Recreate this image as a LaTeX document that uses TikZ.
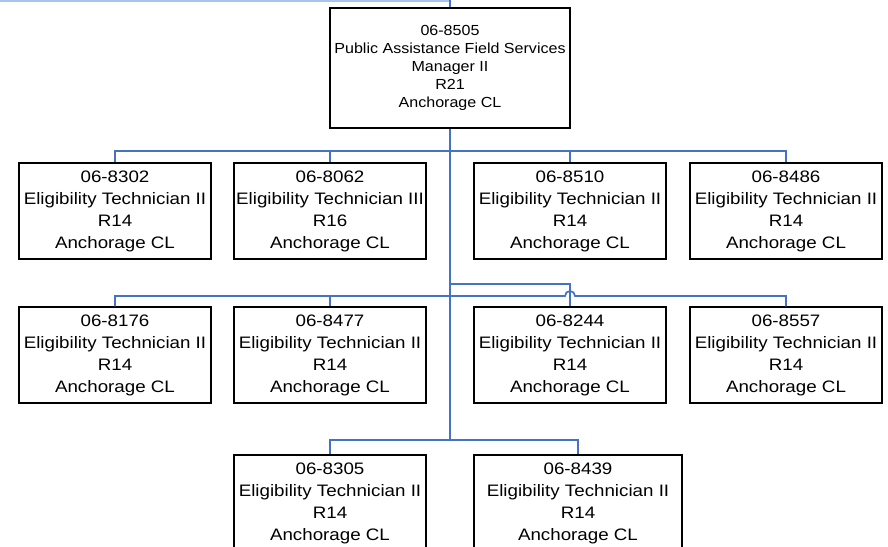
\documentclass[tikz,border=0pt]{standalone}
\usepackage{fontspec}
\setmainfont{Liberation Sans}[FakeStretch=1.1]
\newfontfamily\rowfont{Liberation Sans}[FakeStretch=1.13]
\definecolor{conn}{HTML}{4472C4}
\definecolor{lightconn}{HTML}{A9C4EB}
\tikzset{
  box/.style={draw=black, line width=1.4pt, fill=white, align=center, inner sep=0pt,
    minimum width=192pt, minimum height=96pt, font=\rowfont\fontsize{16.6}{22}\selectfont,
    execute at begin node={\rule{0pt}{15.5pt}}},
  topbox/.style={draw=black, line width=1.4pt, fill=white, align=center, inner sep=0pt,
    minimum width=240pt, minimum height=120pt, font=\fontsize{14.6}{18.2}\selectfont},
  link/.style={draw=conn, line width=1.7pt},
}
\begin{document}
\begin{tikzpicture}[x=1pt,y=-1pt]
\useasboundingbox (0,0) rectangle (888,546);
\clip (0,0) rectangle (888,546);
\coordinate (topin) at (450,0);
\coordinate (leftin) at (0,1);
\coordinate (trunkend) at (450,440);
\coordinate (j2) at (450,284);
\node[topbox] (top) at (450,68) {06-8505\\Public Assistance Field Services\\Manager II\\R21\\Anchorage CL};
\node[box] (a1) at (115,211) {06-8302\\Eligibility Technician II\\R14\\Anchorage CL};
\node[box] (b1) at (330,211) {06-8062\\Eligibility Technician III\\R16\\Anchorage CL};
\node[box] (c1) at (570,211) {06-8510\\Eligibility Technician II\\R14\\Anchorage CL};
\node[box] (d1) at (786,211) {06-8486\\Eligibility Technician II\\R14\\Anchorage CL};
\node[box] (a2) at (115,355) {06-8176\\Eligibility Technician II\\R14\\Anchorage CL};
\node[box] (b2) at (330,355) {06-8477\\Eligibility Technician II\\R14\\Anchorage CL};
\node[box] (c2) at (570,355) {06-8244\\Eligibility Technician II\\R14\\Anchorage CL};
\node[box] (d2) at (786,355) {06-8557\\Eligibility Technician II\\R14\\Anchorage CL};
\node[box] (a3) at (330,503) {06-8305\\Eligibility Technician II\\R14\\Anchorage CL};
\node[box, minimum width=208pt] (b3) at (578,503) {06-8439\\Eligibility Technician II\\R14\\Anchorage CL};
% incoming lines
\draw[draw=lightconn, line width=2pt] (leftin) -- (topin |- leftin);
\draw[link] (topin) -- (top.north);
% trunk
\draw[link] (top.south) -- (trunkend);
% row 1
\draw[link] (a1.north) -- ++(0,-11) -| (d1.north);
\draw[link] (b1.north) -- ++(0,-11);
\draw[link] (c1.north) -- ++(0,-11);
% row 2
\draw[link] (a2.north) |- (565,296) arc[start angle=180, end angle=0, radius=5pt] -- (786,296) -- (d2.north);
\draw[link] (b2.north) -- ++(0,-11);
\draw[link] (j2) -| (c2.north);
% row 3
\draw[link] (a3.north) |- (trunkend) -| (b3.north);
\end{tikzpicture}
\end{document}
